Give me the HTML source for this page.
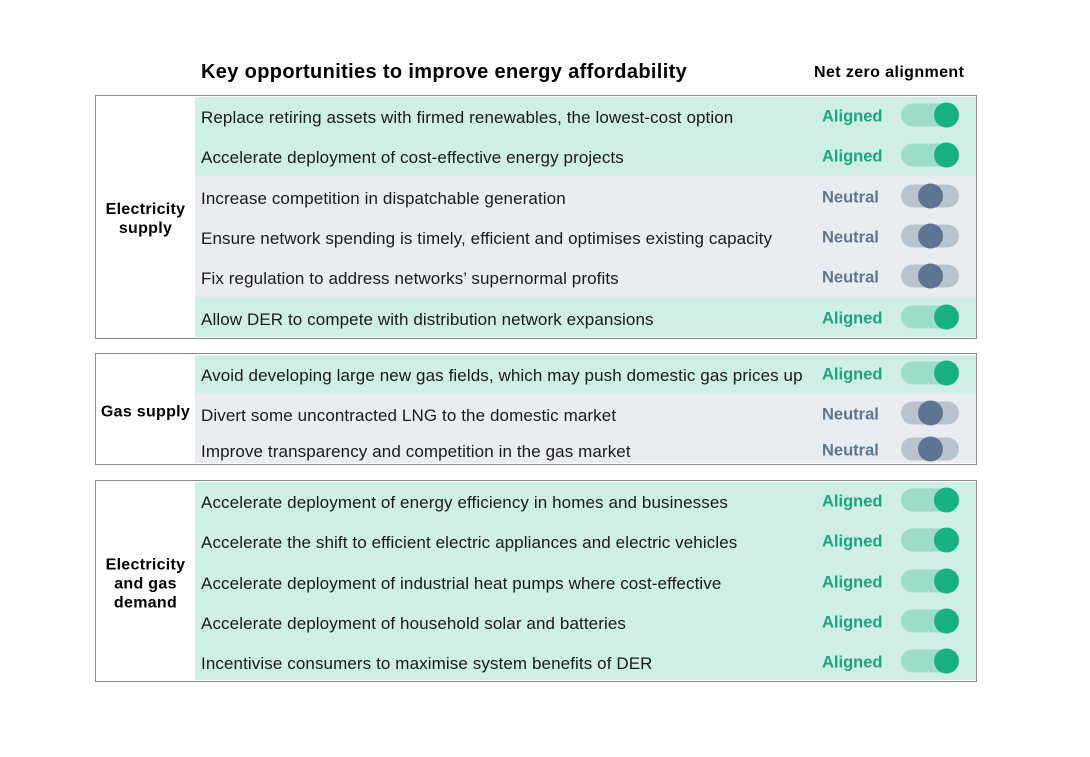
<!DOCTYPE html>
<html><head><meta charset="utf-8"><style>
body{margin:0;width:1090px;height:757px;background:#fff;font-family:"Liberation Sans",sans-serif;position:relative;overflow:hidden}
.a{position:absolute}
.box{position:absolute;left:95px;width:880px;border:1px solid #8c8c8c;background:#fff}
.row{position:absolute;left:195px;width:781px;}
.g{background:#cfeee5}.n{background:#e9edf1}
.t{position:absolute;left:201px;font-size:17px;letter-spacing:0.1px;color:#1a1a1a;transform:translateY(-50%);white-space:nowrap}
.l{position:absolute;left:822px;font-size:16.5px;font-weight:bold;transform:translateY(-50%)}
.la{color:#1aa57e}.ln{color:#5f7590}
.tr{position:absolute;left:901px;width:58px;height:23px;border-radius:12px;transform:translateY(-50%)}
.tr i{position:absolute;top:-1px;width:25px;height:25px;border-radius:50%}
.ta{background:#9cdcc8}.ta i{background:#17b184;right:0}
.tn{background:#b9c3cd}.tn i{background:#5e7592;left:17px}
.c{position:absolute;left:96px;width:99px;text-align:center;font-weight:bold;font-size:16px;letter-spacing:0.3px;line-height:19px;transform:translateY(-50%)}
</style></head><body>
<div class="a" style="left:201px;top:61px;font-size:20px;letter-spacing:0.35px;font-weight:bold">Key opportunities to improve energy affordability</div>
<div class="a" style="left:814px;top:64px;font-size:16px;letter-spacing:0.4px;font-weight:bold">Net zero alignment</div>

<div class="box" style="top:95px;height:242px"></div>
<div class="row g" style="top:97px;height:79px"></div>
<div class="row n" style="top:176px;height:121px"></div>
<div class="row g" style="top:297px;height:40px"></div>

<div class="box" style="top:353px;height:110px"></div>
<div class="row g" style="top:355px;height:38px"></div>
<div class="row n" style="top:393px;height:70px"></div>

<div class="box" style="top:480px;height:200px"></div>
<div class="row g" style="top:482px;height:198px"></div>

<div class="c" style="top:219px">Electricity<br>supply</div>
<div class="c" style="top:412px">Gas supply</div>
<div class="c" style="top:584px">Electricity<br>and gas<br>demand</div>

<div id="rows"></div>
<script>
var d=[[117,"Replace retiring assets with firmed renewables, the lowest-cost option",1],
[157,"Accelerate deployment of cost-effective energy projects",1],
[198,"Increase competition in dispatchable generation",0],
[238,"Ensure network spending is timely, efficient and optimises existing capacity",0],
[278,"Fix regulation to address networks’ supernormal profits",0],
[319,"Allow DER to compete with distribution network expansions",1],
[375,"Avoid developing large new gas fields, which may push domestic gas prices up",1],
[415,"Divert some uncontracted LNG to the domestic market",0],
[451,"Improve transparency and competition in the gas market",0],
[502,"Accelerate deployment of energy efficiency in homes and businesses",1],
[542,"Accelerate the shift to efficient electric appliances and electric vehicles",1],
[583,"Accelerate deployment of industrial heat pumps where cost-effective",1],
[623,"Accelerate deployment of household solar and batteries",1],
[663,"Incentivise consumers to maximise system benefits of DER",1]];
var h="";d.forEach(function(r){var y=r[0],a=r[2];
h+='<div class="t" style="top:'+(y+1)+'px">'+r[1]+'</div>';
h+='<div class="l '+(a?'la':'ln')+'" style="top:'+y+'px">'+(a?'Aligned':'Neutral')+'</div>';
h+='<div class="tr '+(a?'ta':'tn')+'" style="top:'+(y-2)+'px"><i></i></div>';});
document.getElementById("rows").innerHTML=h;
</script>
</body></html>
